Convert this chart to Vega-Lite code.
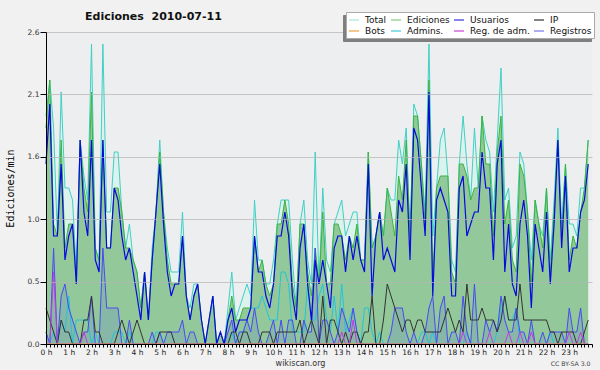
{
"$schema": "https://vega.github.io/schema/vega-lite/v6.json",
"width": 546, "height": 312,
"autosize": {"type": "none"},
"padding": {"left": 46, "top": 32, "right": 8, "bottom": 26},
"background": "#f1f1f1",
"config": {"view": {"fill": "#edeef0", "stroke": null}, "font": "DejaVu Sans"},
"title": {"text": "Ediciones\u00a0 2010-07-11", "anchor": "start", "frame": "group", "dx": 39, "dy": 21, "fontSize": 11, "font": "DejaVu Sans", "fontWeight": "bold", "color": "#111111", "offset": 11},
"data": {"values": [
{"m":0,"T":1.9,"E":1.8,"U":1.5,"P":0.3,"R":0.1,"A":0.1,"M":0},
{"m":10,"T":2.2,"E":2.2,"U":2.0,"P":0.2,"R":0,"A":0,"M":0},
{"m":20,"T":1.8,"E":1.0,"U":0.9,"P":0.1,"R":0.8,"A":0.1,"M":0.6},
{"m":30,"T":0.9,"E":0.9,"U":0.9,"P":0,"R":0,"A":0,"M":0},
{"m":40,"T":2.1,"E":1.7,"U":1.5,"P":0.2,"R":0.4,"A":0.2,"M":0},
{"m":50,"T":1.3,"E":0.8,"U":0.7,"P":0.1,"R":0.5,"A":0.1,"M":0},
{"m":60,"T":1.3,"E":1.0,"U":0.9,"P":0.1,"R":0.3,"A":0.4,"M":0},
{"m":70,"T":1.2,"E":1.0,"U":1.0,"P":0,"R":0.2,"A":0,"M":0},
{"m":80,"T":0.6,"E":0.5,"U":0.5,"P":0,"R":0.1,"A":0.2,"M":0},
{"m":90,"T":1.7,"E":1.7,"U":1.7,"P":0,"R":0,"A":0.2,"M":0},
{"m":100,"T":1.4,"E":1.3,"U":1.1,"P":0.2,"R":0.1,"A":0.2,"M":0.1},
{"m":110,"T":1.2,"E":1.1,"U":0.9,"P":0.2,"R":0.1,"A":0.2,"M":0},
{"m":120,"T":2.5,"E":2.1,"U":1.7,"P":0.4,"R":0.4,"A":0,"M":0},
{"m":130,"T":0.8,"E":0.8,"U":0.7,"P":0.1,"R":0,"A":0.1,"M":0},
{"m":140,"T":0.7,"E":0.7,"U":0.6,"P":0.1,"R":0,"A":0,"M":0},
{"m":150,"T":2.5,"E":1.7,"U":1.7,"P":0,"R":0.8,"A":0,"M":0},
{"m":160,"T":1.1,"E":0.8,"U":0.8,"P":0,"R":0.3,"A":0,"M":0},
{"m":170,"T":1.1,"E":0.8,"U":0.8,"P":0,"R":0.3,"A":0,"M":0},
{"m":180,"T":1.6,"E":1.3,"U":1.3,"P":0,"R":0.3,"A":0.1,"M":0},
{"m":190,"T":1.6,"E":1.3,"U":1.2,"P":0.1,"R":0.3,"A":0.1,"M":0},
{"m":200,"T":1.1,"E":1.1,"U":0.9,"P":0.2,"R":0,"A":0.1,"M":0},
{"m":210,"T":0.8,"E":0.8,"U":0.7,"P":0.1,"R":0,"A":0,"M":0},
{"m":220,"T":1.0,"E":0.8,"U":0.8,"P":0,"R":0.2,"A":0.1,"M":0},
{"m":230,"T":0.7,"E":0.7,"U":0.6,"P":0.1,"R":0,"A":0,"M":0},
{"m":240,"T":0.6,"E":0.6,"U":0.4,"P":0.2,"R":0,"A":0,"M":0},
{"m":250,"T":0.3,"E":0.3,"U":0.2,"P":0.1,"R":0,"A":0,"M":0},
{"m":260,"T":0.6,"E":0.6,"U":0.6,"P":0,"R":0,"A":0,"M":0},
{"m":270,"T":0.2,"E":0.2,"U":0.2,"P":0,"R":0,"A":0,"M":0},
{"m":280,"T":0.8,"E":0.7,"U":0.7,"P":0,"R":0.1,"A":0,"M":0},
{"m":290,"T":1.1,"E":1.1,"U":1.1,"P":0,"R":0,"A":0.1,"M":0},
{"m":300,"T":1.7,"E":1.6,"U":1.5,"P":0.1,"R":0.1,"A":0.1,"M":0},
{"m":310,"T":1.1,"E":1.1,"U":1.0,"P":0.1,"R":0,"A":0,"M":0},
{"m":320,"T":0.8,"E":0.7,"U":0.6,"P":0.1,"R":0.1,"A":0,"M":0},
{"m":330,"T":0.6,"E":0.5,"U":0.4,"P":0.1,"R":0.1,"A":0,"M":0},
{"m":340,"T":0.6,"E":0.5,"U":0.5,"P":0,"R":0.1,"A":0,"M":0},
{"m":350,"T":0.6,"E":0.5,"U":0.5,"P":0,"R":0.1,"A":0,"M":0},
{"m":360,"T":1.1,"E":0.9,"U":0.9,"P":0,"R":0.2,"A":0,"M":0},
{"m":370,"T":0.4,"E":0.4,"U":0.4,"P":0,"R":0,"A":0,"M":0},
{"m":380,"T":0.3,"E":0.2,"U":0.2,"P":0,"R":0.1,"A":0,"M":0},
{"m":390,"T":0.5,"E":0.4,"U":0.4,"P":0,"R":0.1,"A":0,"M":0},
{"m":400,"T":0.5,"E":0.5,"U":0.5,"P":0,"R":0,"A":0,"M":0},
{"m":410,"T":0.2,"E":0.2,"U":0.2,"P":0,"R":0,"A":0,"M":0},
{"m":420,"T":0,"E":0,"U":0,"P":0,"R":0,"A":0,"M":0},
{"m":430,"T":0.2,"E":0.2,"U":0.2,"P":0,"R":0,"A":0,"M":0},
{"m":440,"T":0.4,"E":0.4,"U":0.4,"P":0,"R":0,"A":0,"M":0},
{"m":450,"T":0,"E":0,"U":0,"P":0,"R":0,"A":0,"M":0},
{"m":460,"T":0.1,"E":0.1,"U":0.1,"P":0,"R":0,"A":0,"M":0},
{"m":470,"T":0,"E":0,"U":0,"P":0,"R":0,"A":0,"M":0},
{"m":480,"T":0.3,"E":0.2,"U":0.2,"P":0,"R":0.1,"A":0,"M":0},
{"m":490,"T":0.6,"E":0.4,"U":0.3,"P":0.1,"R":0.2,"A":0.1,"M":0},
{"m":500,"T":0.2,"E":0.2,"U":0.1,"P":0.1,"R":0,"A":0,"M":0},
{"m":510,"T":0.3,"E":0.2,"U":0.2,"P":0,"R":0.1,"A":0.1,"M":0},
{"m":520,"T":0.4,"E":0.3,"U":0.2,"P":0.1,"R":0.1,"A":0.1,"M":0},
{"m":530,"T":0.5,"E":0.3,"U":0.2,"P":0.1,"R":0.2,"A":0.2,"M":0},
{"m":540,"T":0.4,"E":0.3,"U":0.3,"P":0,"R":0.1,"A":0.3,"M":0},
{"m":550,"T":1.2,"E":0.9,"U":0.9,"P":0,"R":0.3,"A":0.3,"M":0},
{"m":560,"T":0.7,"E":0.6,"U":0.6,"P":0,"R":0.1,"A":0.3,"M":0},
{"m":570,"T":0.7,"E":0.7,"U":0.6,"P":0.1,"R":0,"A":0.4,"M":0},
{"m":580,"T":0.5,"E":0.5,"U":0.4,"P":0.1,"R":0,"A":0.3,"M":0},
{"m":590,"T":0.5,"E":0.4,"U":0.3,"P":0.1,"R":0.1,"A":0.2,"M":0},
{"m":600,"T":0.7,"E":0.5,"U":0.5,"P":0,"R":0.2,"A":0.2,"M":0},
{"m":610,"T":1.0,"E":1.0,"U":0.9,"P":0.1,"R":0,"A":0.2,"M":0},
{"m":620,"T":1.2,"E":1.0,"U":0.9,"P":0.1,"R":0.2,"A":0.6,"M":0},
{"m":630,"T":1.2,"E":1.2,"U":1.1,"P":0.1,"R":0,"A":0.6,"M":0},
{"m":640,"T":1.2,"E":1.0,"U":0.9,"P":0.1,"R":0.2,"A":0.5,"M":0},
{"m":650,"T":0.7,"E":0.5,"U":0.4,"P":0.1,"R":0.2,"A":0.1,"M":0},
{"m":660,"T":0.3,"E":0.3,"U":0.2,"P":0.1,"R":0,"A":0.1,"M":0},
{"m":670,"T":1.0,"E":1.0,"U":0.8,"P":0.2,"R":0,"A":0.1,"M":0},
{"m":680,"T":1.2,"E":1.0,"U":1.0,"P":0,"R":0.2,"A":0.1,"M":0},
{"m":690,"T":0.7,"E":0.6,"U":0.5,"P":0.1,"R":0.1,"A":0.5,"M":0},
{"m":700,"T":0.5,"E":0.4,"U":0.2,"P":0.2,"R":0.1,"A":0.2,"M":0},
{"m":710,"T":1.6,"E":0.8,"U":0.7,"P":0.1,"R":0.8,"A":0.2,"M":0},
{"m":720,"T":0.5,"E":0.5,"U":0.5,"P":0,"R":0,"A":0.4,"M":0},
{"m":730,"T":1.3,"E":1.1,"U":0.7,"P":0.4,"R":0.2,"A":0.5,"M":0},
{"m":740,"T":0.7,"E":0.5,"U":0.5,"P":0,"R":0.2,"A":0.2,"M":0},
{"m":750,"T":0.6,"E":0.5,"U":0.3,"P":0.2,"R":0.1,"A":0.1,"M":0},
{"m":760,"T":1.0,"E":1.0,"U":0.8,"P":0.2,"R":0,"A":0.4,"M":0},
{"m":770,"T":1.1,"E":1.0,"U":0.9,"P":0.1,"R":0.1,"A":0.1,"M":0},
{"m":780,"T":1.2,"E":0.9,"U":0.9,"P":0,"R":0.3,"A":0.5,"M":0.1},
{"m":790,"T":0.9,"E":0.7,"U":0.6,"P":0.1,"R":0.2,"A":0.1,"M":0},
{"m":800,"T":1.0,"E":0.9,"U":0.9,"P":0,"R":0.1,"A":0.2,"M":0},
{"m":810,"T":1.1,"E":0.8,"U":0.7,"P":0.1,"R":0.3,"A":0.3,"M":0.2},
{"m":820,"T":1.1,"E":1.0,"U":0.9,"P":0.1,"R":0.1,"A":0.1,"M":0},
{"m":830,"T":0.7,"E":0.7,"U":0.7,"P":0,"R":0,"A":0,"M":0},
{"m":840,"T":0.7,"E":0.7,"U":0.6,"P":0.1,"R":0,"A":0.3,"M":0},
{"m":850,"T":1.6,"E":1.6,"U":1.5,"P":0.1,"R":0,"A":0.3,"M":0},
{"m":860,"T":0.8,"E":0.8,"U":0.4,"P":0.4,"R":0,"A":0.1,"M":0},
{"m":870,"T":0.9,"E":0.9,"U":0.9,"P":0,"R":0,"A":0,"M":0},
{"m":880,"T":1.1,"E":1.1,"U":1.1,"P":0,"R":0,"A":0.1,"M":0},
{"m":890,"T":0.9,"E":0.9,"U":0.7,"P":0.2,"R":0,"A":0,"M":0},
{"m":900,"T":1.3,"E":1.3,"U":0.8,"P":0.5,"R":0,"A":0,"M":0},
{"m":910,"T":1.2,"E":1.1,"U":0.7,"P":0.4,"R":0.1,"A":0,"M":0},
{"m":920,"T":1.2,"E":0.9,"U":0.6,"P":0.3,"R":0.3,"A":0,"M":0},
{"m":930,"T":1.7,"E":1.4,"U":1.2,"P":0.2,"R":0.3,"A":0,"M":0},
{"m":940,"T":1.5,"E":1.2,"U":1.1,"P":0.1,"R":0.3,"A":0,"M":0},
{"m":950,"T":1.8,"E":1.7,"U":1.5,"P":0.2,"R":0.1,"A":0,"M":0},
{"m":960,"T":0.9,"E":0.9,"U":0.7,"P":0.2,"R":0,"A":0,"M":0},
{"m":970,"T":2.0,"E":1.9,"U":1.8,"P":0.1,"R":0.1,"A":0,"M":0},
{"m":980,"T":1.9,"E":1.9,"U":1.7,"P":0.2,"R":0,"A":0,"M":0},
{"m":990,"T":1.5,"E":1.5,"U":1.3,"P":0.2,"R":0,"A":0.1,"M":0},
{"m":1000,"T":1.1,"E":1.0,"U":0.9,"P":0.1,"R":0.1,"A":0.1,"M":0},
{"m":1010,"T":2.5,"E":2.2,"U":2.1,"P":0.1,"R":0.3,"A":0,"M":0},
{"m":1020,"T":0.9,"E":0.5,"U":0.4,"P":0.1,"R":0.4,"A":0.1,"M":0},
{"m":1030,"T":1.3,"E":1.3,"U":1.2,"P":0.1,"R":0,"A":0,"M":0},
{"m":1040,"T":1.7,"E":1.4,"U":1.3,"P":0.1,"R":0.3,"A":0,"M":0},
{"m":1050,"T":1.8,"E":1.4,"U":1.2,"P":0.2,"R":0.4,"A":0,"M":0},
{"m":1060,"T":1.4,"E":1.4,"U":1.1,"P":0.3,"R":0,"A":0,"M":0},
{"m":1070,"T":0.7,"E":0.6,"U":0.4,"P":0.2,"R":0.1,"A":0,"M":0},
{"m":1080,"T":0.6,"E":0.5,"U":0.4,"P":0.1,"R":0.1,"A":0,"M":0},
{"m":1090,"T":1.5,"E":1.5,"U":1.3,"P":0.2,"R":0,"A":0,"M":0},
{"m":1100,"T":1.9,"E":1.5,"U":1.4,"P":0.1,"R":0.4,"A":0,"M":0.1},
{"m":1110,"T":1.5,"E":1.4,"U":0.9,"P":0.5,"R":0.1,"A":0.1,"M":0},
{"m":1120,"T":1.2,"E":1.2,"U":1.0,"P":0.2,"R":0,"A":0,"M":0},
{"m":1130,"T":1.8,"E":1.3,"U":1.1,"P":0.2,"R":0.5,"A":0,"M":0},
{"m":1140,"T":1.3,"E":1.3,"U":1.1,"P":0.2,"R":0,"A":0,"M":0},
{"m":1150,"T":1.9,"E":1.9,"U":1.6,"P":0.3,"R":0,"A":0,"M":0},
{"m":1160,"T":1.7,"E":1.5,"U":1.3,"P":0.2,"R":0.2,"A":0,"M":0},
{"m":1170,"T":1.6,"E":1.5,"U":1.3,"P":0.2,"R":0.1,"A":0,"M":0.1},
{"m":1180,"T":1.1,"E":0.9,"U":0.7,"P":0.2,"R":0.2,"A":0,"M":0},
{"m":1190,"T":1.7,"E":1.6,"U":1.5,"P":0.1,"R":0.1,"A":0.1,"M":0},
{"m":1200,"T":2.3,"E":1.9,"U":1.7,"P":0.2,"R":0.4,"A":0.3,"M":0},
{"m":1210,"T":1.2,"E":1.0,"U":0.6,"P":0.4,"R":0.2,"A":0.4,"M":0},
{"m":1220,"T":1.3,"E":1.2,"U":1.0,"P":0.2,"R":0.1,"A":0.2,"M":0.1},
{"m":1230,"T":0.8,"E":0.7,"U":0.5,"P":0.2,"R":0.1,"A":0.2,"M":0},
{"m":1240,"T":0.9,"E":0.6,"U":0.4,"P":0.2,"R":0.3,"A":0.3,"M":0},
{"m":1250,"T":1.6,"E":1.5,"U":1.0,"P":0.5,"R":0.1,"A":0,"M":0.1},
{"m":1260,"T":1.5,"E":1.4,"U":1.2,"P":0.2,"R":0.1,"A":0,"M":0},
{"m":1270,"T":1.1,"E":1.1,"U":0.9,"P":0.2,"R":0,"A":0,"M":0},
{"m":1280,"T":0.7,"E":0.5,"U":0.3,"P":0.2,"R":0.2,"A":0,"M":0.1},
{"m":1290,"T":1.2,"E":1.2,"U":1.0,"P":0.2,"R":0,"A":0,"M":0},
{"m":1300,"T":1.0,"E":1.0,"U":0.8,"P":0.2,"R":0,"A":0,"M":0},
{"m":1310,"T":0.9,"E":0.8,"U":0.6,"P":0.2,"R":0.1,"A":0,"M":0},
{"m":1320,"T":1.3,"E":1.3,"U":1.1,"P":0.2,"R":0,"A":0,"M":0},
{"m":1330,"T":0.7,"E":0.6,"U":0.5,"P":0.1,"R":0.1,"A":0.1,"M":0},
{"m":1340,"T":1.2,"E":1.1,"U":1.0,"P":0.1,"R":0.1,"A":0,"M":0},
{"m":1350,"T":1.8,"E":1.7,"U":1.7,"P":0,"R":0.1,"A":0,"M":0},
{"m":1360,"T":1.0,"E":0.9,"U":0.8,"P":0.1,"R":0.1,"A":0,"M":0},
{"m":1370,"T":1.5,"E":1.5,"U":1.4,"P":0.1,"R":0,"A":0,"M":0},
{"m":1380,"T":1.0,"E":0.7,"U":0.6,"P":0.1,"R":0.3,"A":0,"M":0.1},
{"m":1390,"T":1.0,"E":0.9,"U":0.8,"P":0.1,"R":0.1,"A":0,"M":0},
{"m":1400,"T":0.9,"E":0.8,"U":0.8,"P":0,"R":0.1,"A":0,"M":0},
{"m":1410,"T":1.3,"E":1.1,"U":1.1,"P":0,"R":0.3,"A":0,"M":0.1},
{"m":1420,"T":1.3,"E":1.3,"U":1.2,"P":0.1,"R":0,"A":0,"M":0},
{"m":1430,"T":1.7,"E":1.7,"U":1.5,"P":0.2,"R":0,"A":0,"M":0}
]},
"layer": [
{
"encoding": {
 "x": {"field": "m", "type": "quantitative", "title": "wikiscan.org",
  "scale": {"domain": [0, 1440], "nice": false, "zero": false},
  "axis": {"values": [0,10,20,30,40,50,60,70,80,90,100,110,120,130,140,150,160,170,180,190,200,210,220,230,240,250,260,270,280,290,300,310,320,330,340,350,360,370,380,390,400,410,420,430,440,450,460,470,480,490,500,510,520,530,540,550,560,570,580,590,600,610,620,630,640,650,660,670,680,690,700,710,720,730,740,750,760,770,780,790,800,810,820,830,840,850,860,870,880,890,900,910,920,930,940,950,960,970,980,990,1000,1010,1020,1030,1040,1050,1060,1070,1080,1090,1100,1110,1120,1130,1140,1150,1160,1170,1180,1190,1200,1210,1220,1230,1240,1250,1260,1270,1280,1290,1300,1310,1320,1330,1340,1350,1360,1370,1380,1390,1400,1410,1420,1430,1440],
   "labelExpr": "datum.value % 60 == 0 && datum.value < 1440 ? (datum.value / 60) + ' h' : ''",
   "labelFont": "DejaVu Sans", "labelFontSize": 7.5, "labelColor": "#222222", "labelOverlap": false, "labelFlush": false, "labelPadding": 1,
   "tickSize": 3, "tickColor": "#000000", "domainColor": "#000000", "grid": false, "zindex": 1,
   "titleFont": "DejaVu Sans", "titleFontSize": 8, "titleFontWeight": "normal", "titleColor": "#333333",
   "titleX": 254, "titleY": 21, "titleAlign": "center", "titleBaseline": "alphabetic"}}
},
"layer": [
 {"mark": {"type": "area", "color": "#dcf2ec"},
  "encoding": {"y": {"field": "T", "type": "quantitative", "title": "Ediciones/min",
   "scale": {"domain": [0, 2.6], "nice": false, "zero": true},
   "axis": {"values": [0,0.13,0.26,0.39,0.52,0.65,0.78,0.91,1.04,1.17,1.3,1.43,1.56,1.69,1.82,1.95,2.08,2.21,2.34,2.47,2.6],
    "labelExpr": "indexof([0,0.52,1.04,1.56,2.08,2.6], datum.value) >= 0 ? format(datum.value, '.1f') : ''",
    "tickSize": {"condition": {"test": "indexof([0,0.52,1.04,1.56,2.08,2.6], datum.value) >= 0", "value": 6}, "value": 3},
    "grid": true, "gridColor": "#b4b4b4",
    "gridOpacity": {"condition": {"test": "indexof([0,0.52,1.04,1.56,2.08,2.6], datum.value) >= 0", "value": 0.7}, "value": 0},
    "zindex": 1, "domainColor": "#000000", "tickColor": "#000000",
    "labelFont": "DejaVu Sans", "labelFontSize": 7.5, "labelColor": "#333333", "labelPadding": 1, "labelFlush": false,
    "titleFont": "DejaVu Sans Mono", "titleFontSize": 10, "titleFontWeight": "normal", "titleColor": "#000000",
    "titleAngle": 270, "titleX": -36, "titleY": 156, "titleAlign": "center", "titleBaseline": "middle"}}}},
 {"mark": {"type": "area", "color": "#93c99a"},
  "encoding": {"y": {"field": "E", "type": "quantitative", "title": "Ediciones/min"}}},
 {"mark": {"type": "area", "color": "#4050f0", "opacity": 0.14},
  "encoding": {"y": {"field": "R", "type": "quantitative", "title": "Ediciones/min"}}},
 {"mark": {"type": "line", "color": "#3fd0c6", "strokeWidth": 1},
  "encoding": {"y": {"field": "T", "type": "quantitative", "title": "Ediciones/min"}}},
 {"mark": {"type": "line", "color": "#3cb43c", "strokeWidth": 1},
  "encoding": {"y": {"field": "E", "type": "quantitative", "title": "Ediciones/min"}}},
 {"mark": {"type": "line", "color": "#22c4dc", "strokeWidth": 1},
  "encoding": {"y": {"field": "A", "type": "quantitative", "title": "Ediciones/min"}}},
 {"mark": {"type": "line", "color": "#4a4af2", "strokeWidth": 1},
  "encoding": {"y": {"field": "R", "type": "quantitative", "title": "Ediciones/min"}}},
 {"mark": {"type": "line", "color": "#333333", "strokeWidth": 1},
  "encoding": {"y": {"field": "P", "type": "quantitative", "title": "Ediciones/min"}}},
 {"mark": {"type": "line", "color": "#c23ce0", "strokeWidth": 1},
  "encoding": {"y": {"field": "M", "type": "quantitative", "title": "Ediciones/min"}}},
 {"mark": {"type": "line", "color": "#0808e0", "strokeWidth": 1.2},
  "encoding": {"y": {"field": "U", "type": "quantitative", "title": "Ediciones/min"}}}
]
},
{
"mark": {"type": "line", "strokeWidth": 1},
"encoding": {
 "x": {"field": "m", "type": "quantitative", "scale": {"domain": [0, 1440], "nice": false, "zero": false},
  "axis": {"orient": "bottom", "title": "CC BY-SA 3.0", "domain": false, "ticks": false, "labels": false, "grid": false,
   "titleX": 544, "titleY": 21, "titleAlign": "right", "titleBaseline": "alphabetic",
   "titleFont": "DejaVu Sans", "titleFontSize": 6.2, "titleFontWeight": "normal", "titleColor": "#444444"}},
 "y": {"datum": 0, "type": "quantitative"},
 "color": {"datum": "Bots",
  "scale": {"domain": ["Total", "Bots", "Ediciones", "Admins.", "Usuarios", "Reg. de adm.", "IP", "Registros"],
   "range": ["#a8e6de", "#f0a040", "#88cc88", "#40c8dc", "#3333dd", "#cc44dd", "#333333", "#7777ee"]},
  "legend": {"orient": "none", "legendX": 300, "legendY": -20, "columns": 4, "title": null,
   "symbolType": "stroke", "symbolSize": 100, "symbolStrokeWidth": 1.2,
   "labelFont": "DejaVu Sans", "labelFontSize": 9, "labelColor": "#111111", "labelOffset": 5,
   "columnPadding": 1, "rowPadding": -2, "padding": 2,
   "fillColor": "#ffffff", "strokeColor": "#aaaaaa", "zindex": 2}},
 "strokeDash": {"datum": "_Bots",
  "scale": {"domain": ["_Total", "_Bots", "_Ediciones", "_Admins.", "_Usuarios", "_Reg. de adm.", "_IP", "_Registros"],
   "range": [[1,0],[1,0],[1,0],[1,0],[1,0],[1,0],[1,0],[1,0]]},
  "legend": {"orient": "none", "legendX": 297, "legendY": -17, "columns": 4, "title": null,
   "labelExpr": "slice(datum.label, 1)",
   "symbolType": "stroke", "symbolSize": 100, "symbolStrokeWidth": 1.2, "symbolStrokeColor": "#7f7f7f",
   "labelFont": "DejaVu Sans", "labelFontSize": 9, "labelColor": "#7f7f7f", "labelOffset": 5,
   "columnPadding": 1, "rowPadding": -2, "padding": 2,
   "fillColor": "#7f7f7f", "strokeColor": "#7f7f7f", "zindex": 1}}
}
}
],
"resolve": {"scale": {"x": "independent"}}
}
